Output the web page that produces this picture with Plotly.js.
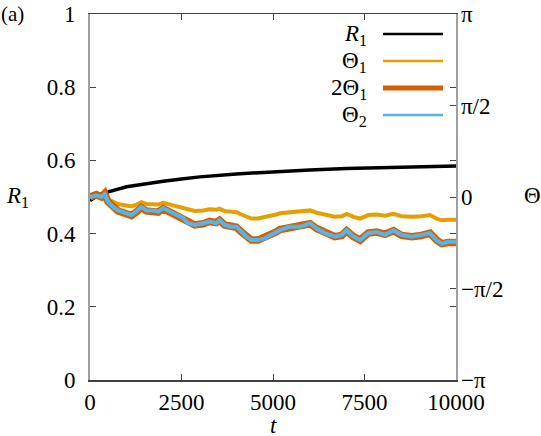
<!DOCTYPE html>
<html>
<head>
<meta charset="utf-8">
<script src="https://cdn.plot.ly/plotly-3.0.1.min.js"></script>
</head>
<body style="margin:0">
<div style="position:absolute;left:1px;top:2px;font-family:'Liberation Serif';font-size:21px;z-index:5">(a)</div>
<div id="plot" style="width:541px;height:436px"></div>
<script>
// R1 (left axis)
var tR = [0, 150, 300, 500, 1000, 1500, 2000, 2500, 3000, 4000, 5000, 6000, 7000, 8000, 9000, 10000];
var R1 = [0.49, 0.50, 0.507, 0.514, 0.528, 0.536, 0.543, 0.549, 0.555, 0.563, 0.569, 0.574, 0.578, 0.581, 0.583, 0.585];

// phases (right axis, radians)
var tTheta = [0, 170, 310, 400, 490, 630, 765, 950, 1130, 1265, 1400, 1540, 1720, 1860, 2000, 2180, 2360, 2540, 2680, 2860,
              3090, 3270, 3450, 3540, 3680, 3860, 4000, 4135, 4270, 4410, 4590, 4770, 4950, 5090, 5190, 5460, 5740, 6010,
              6190, 6420, 6690, 6880, 7010, 7200, 7380, 7600, 7830, 8060, 8290, 8515, 8790, 9060, 9290, 9470, 9610, 9790, 10000];
var theta1 = [0, 0.02, 0, 0.03, -0.04, -0.09, -0.12, -0.14, -0.16, -0.13, -0.09, -0.12, -0.12, -0.13, -0.10, -0.13, -0.16, -0.18, -0.22, -0.24,
              -0.23, -0.21, -0.22, -0.20, -0.24, -0.25, -0.26, -0.30, -0.34, -0.37, -0.37, -0.35, -0.33, -0.30, -0.28, -0.26, -0.25, -0.23,
              -0.27, -0.31, -0.34, -0.33, -0.29, -0.34, -0.37, -0.31, -0.30, -0.32, -0.29, -0.33, -0.34, -0.33, -0.31, -0.37, -0.40, -0.39, -0.39];
var theta2 = [0, 0.03, 0, 0.05, -0.08, -0.17, -0.23, -0.27, -0.31, -0.25, -0.17, -0.23, -0.23, -0.25, -0.19, -0.25, -0.31, -0.36, -0.45, -0.48,
              -0.45, -0.42, -0.45, -0.40, -0.48, -0.51, -0.51, -0.60, -0.68, -0.74, -0.74, -0.71, -0.65, -0.60, -0.57, -0.51, -0.51, -0.45,
              -0.54, -0.62, -0.68, -0.65, -0.57, -0.68, -0.74, -0.62, -0.60, -0.65, -0.57, -0.65, -0.68, -0.65, -0.62, -0.74, -0.80, -0.77, -0.77];

var xTicks = [0, 2500, 5000, 7500, 10000];
var yTicks = [0, 0.2, 0.4, 0.6, 0.8, 1];
var y2Ticks = [-Math.PI, -Math.PI / 2, 0, Math.PI / 2, Math.PI];
var y2Labels = ['\u2212\u03c0', '\u2212\u03c0/2', '0', '\u03c0/2', '\u03c0'];

var legendNames = ['<i>R</i><sub>1</sub>', '\u0398<sub>1</sub>', '2\u0398<sub>1</sub>', '\u0398<sub>2</sub>'];
var colors = ['#000000', '#e69f00', '#d55e00', '#56b4e9'];
var widths = [3.5, 4, 7.5, 4];

var twoTheta1 = theta1.map(v => 2 * v);

var traces = [
  { x: tR, y: R1, mode: 'lines', line: { color: colors[0], width: widths[0] }, yaxis: 'y' },
  { x: tTheta, y: theta1, mode: 'lines', line: { color: colors[1], width: widths[1] }, yaxis: 'y2' },
  { x: tTheta, y: twoTheta1, mode: 'lines', line: { color: colors[2], width: widths[2] }, yaxis: 'y2' },
  { x: tTheta, y: theta2, mode: 'lines', line: { color: colors[3], width: widths[3] }, yaxis: 'y2' }
];

// gnuplot-style key: text on the left, sample line on the right
var pl = 90, pt = 14, pw = 366, ph = 366;
function toPaperX(x) { return (x - pl) / pw; }
function toPaperY(y) { return (pt + ph - y) / ph; }
var keyY = [34, 61, 88, 115];
var shapes = [], annotations = [];
for (var i = 0; i < 4; i++) {
  shapes.push({ type: 'line', xref: 'paper', yref: 'paper', x0: toPaperX(383), x1: toPaperX(443), y0: toPaperY(keyY[i]), y1: toPaperY(keyY[i]),
                line: { color: colors[i], width: i == 2 ? 5 : 2.5 } });
  annotations.push({ xref: 'paper', yref: 'paper', x: toPaperX(369), y: toPaperY(keyY[i] + 1), xanchor: 'right', yanchor: 'middle',
                     text: legendNames[i], showarrow: false, font: { color: '#000' } });
}
annotations.push({ xref: 'paper', yref: 'paper', x: toPaperX(4), y: toPaperY(197), xanchor: 'left', yanchor: 'middle', text: '<i>R</i><sub>1</sub>', showarrow: false, font: { color: '#000' } });
annotations.push({ xref: 'paper', yref: 'paper', x: toPaperX(522), y: toPaperY(195), xanchor: 'left', yanchor: 'middle', text: '\u0398', showarrow: false, font: { color: '#000' } });
annotations.push({ xref: 'paper', yref: 'paper', x: 0.5, y: toPaperY(426), xanchor: 'center', yanchor: 'middle', text: '<i>t</i>', showarrow: false, font: { color: '#000' } });

var layout = {
  width: 541, height: 436,
  margin: { l: pl, r: 541 - pl - pw, t: pt, b: 436 - pt - ph },
  paper_bgcolor: '#fff', plot_bgcolor: '#fff',
  showlegend: false,
  font: { family: 'Liberation Serif', size: 23 },
  xaxis: {
    range: [0, 10000], tickvals: xTicks, tickformat: 'd',
    ticks: 'inside', ticklen: 6, tickcolor: '#444', tickwidth: 1,
    showline: true, linecolor: '#404040', linewidth: 1.5, mirror: 'ticks',
    showgrid: false, zeroline: false, ticklabelstandoff: 1,
    tickfont: { color: '#000' }
  },
  yaxis: {
    range: [0, 1], tickvals: yTicks,
    ticks: 'inside', ticklen: 6, tickcolor: '#444', tickwidth: 1,
    showline: true, linecolor: '#a0a0a0', linewidth: 2, mirror: 'ticks',
    showgrid: false, zeroline: false, ticklabelstandoff: 8,
    tickfont: { color: '#000' }
  },
  yaxis2: {
    overlaying: 'y', side: 'right', range: [-Math.PI, Math.PI],
    tickvals: y2Ticks, ticktext: y2Labels,
    ticks: 'inside', ticklen: 6, tickcolor: '#444', tickwidth: 1,
    showline: false, showgrid: false, zeroline: false, ticklabelstandoff: 4,
    tickfont: { color: '#000' }
  },
  shapes: shapes,
  annotations: annotations
};

Plotly.newPlot('plot', traces, layout, { staticPlot: true });
</script>
</body>
</html>
